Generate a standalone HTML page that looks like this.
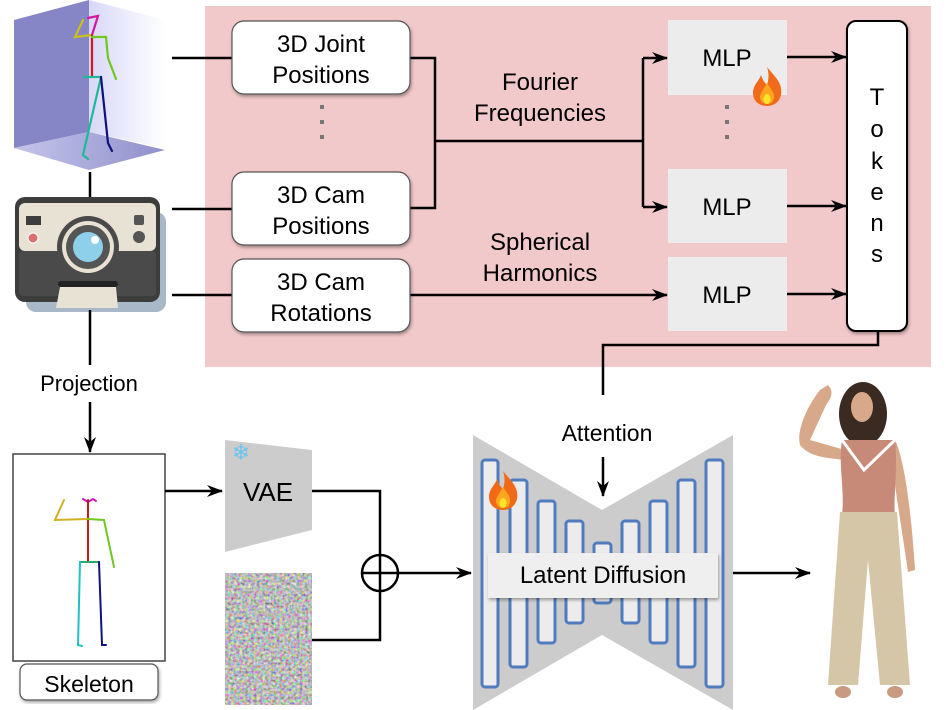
<!DOCTYPE html>
<html><head><meta charset="utf-8"><style>
html,body{margin:0;padding:0;background:#fff;}
svg{display:block;font-family:"Liberation Sans",sans-serif;}
</style></head><body>
<svg width="947" height="710" viewBox="0 0 947 710" xmlns="http://www.w3.org/2000/svg">
<defs>
<marker id="ar" markerWidth="16" markerHeight="12" refX="15" refY="6" orient="auto" markerUnits="userSpaceOnUse">
<path d="M0,0 L16,6 L0,12 L5,6 Z" fill="#000"/></marker>
<linearGradient id="wall" x1="0" x2="1"><stop offset="0" stop-color="#d8d8f8"/><stop offset="1" stop-color="#fff"/></linearGradient>
<linearGradient id="floor" x1="0" x2="1"><stop offset="0" stop-color="#c4c4ea"/><stop offset="1" stop-color="#9090cc"/></linearGradient>
<filter id="noise" x="0" y="0" width="100%" height="100%">
<feTurbulence type="fractalNoise" baseFrequency="0.35" numOctaves="2" seed="3"/>
<feColorMatrix type="matrix" values="1.3 0 0 0 -0.15  0 1.3 0 0 -0.15  0 0 1.3 0 -0.15  0 0 0 0 1"/>
</filter>
<filter id="sh"><feDropShadow dx="1" dy="2" stdDeviation="1.5" flood-opacity="0.35"/></filter>
<g id="flame"><path d="M0,-22 C8,-12 16,-6 14,6 C12,14 6,17 0,17 C-8,17 -14,12 -14,4 C-14,-4 -8,-8 -6,-14 C-4,-8 -2,-6 0,-4 C2,-10 2,-16 0,-22Z" fill="#f06a1a"/><path d="M0,-6 C4,0 8,4 7,9 C6,14 3,15 0,15 C-4,15 -7,12 -7,8 C-7,4 -3,0 0,-6Z" fill="#ffa51e"/><ellipse cx="0" cy="10" rx="3.5" ry="5" fill="#ffe52a"/></g>
</defs>

<rect x="205" y="6" width="726" height="361" fill="#f2c9ca"/>

<!-- 3D scene -->
<polygon points="14,20 89,0 89,132 14,148" fill="#8686c6"/>
<polygon points="89,0 165,20 165,148 89,132" fill="url(#wall)"/>
<polygon points="14,148 89,132 165,150 89,170" fill="url(#floor)"/>
<g fill="none" stroke-width="2.2" stroke-linecap="round">
<path d="M88,18 L98,16 L92,35" stroke="#d4189a"/>
<path d="M92,35 L75,37 L83,20" stroke="#c8c020"/>
<path d="M92,35 L92,77" stroke="#d01818"/>
<path d="M92,37 L106,37 L108,58 L116,79" stroke="#70c820"/>
<path d="M84,77 L101,77 L83,155 L88,159" stroke="#20b898"/>
<path d="M101,77 L108,143 L112,151" stroke="#10107a"/>
</g>
<line x1="90" y1="172" x2="90" y2="197" stroke="#000" stroke-width="2.5"/>

<!-- camera -->
<rect x="26" y="212" width="140" height="100" rx="10" fill="#a8b8c8"/>
<rect x="15" y="197" width="145" height="105" rx="10" fill="#3d3d3d"/>
<rect x="19" y="203" width="137" height="48" rx="6" fill="#e8e2d4"/>
<rect x="19" y="251" width="137" height="45" rx="4" fill="#4a4a4a"/>
<rect x="26" y="216" width="15" height="9" fill="#3d3d3d"/>
<circle cx="33" cy="238" r="5" fill="#d87070" stroke="#fff" stroke-width="1"/>
<rect x="134" y="215" width="10" height="10" rx="2" fill="#555"/>
<circle cx="139" cy="237" r="6" fill="#555"/>
<circle cx="88" cy="247" r="31" fill="#4a4a4a"/>
<circle cx="88" cy="247" r="26" fill="#e8e2d4"/>
<circle cx="88" cy="247" r="22" fill="#555"/>
<circle cx="88" cy="247" r="15" fill="#8ed0ea"/>
<circle cx="95" cy="240" r="4" fill="#fff"/>
<rect x="58" y="281" width="60" height="6" rx="3" fill="#222"/>
<path d="M60,287 L116,287 L118,308 L56,308Z" fill="#e8e2d4"/>
<line x1="90" y1="310" x2="90" y2="365" stroke="#000" stroke-width="2.5"/>

<text x="89" y="391" font-size="22" text-anchor="middle">Projection</text>
<line x1="90" y1="402" x2="90" y2="452" stroke="#000" stroke-width="2.5" marker-end="url(#ar)"/>

<!-- skeleton -->
<rect x="13" y="454" width="152" height="207" fill="#fff" stroke="#444" stroke-width="1.5"/>
<g fill="none" stroke-width="2" stroke-linecap="round">
<path d="M83,499 L88,502 L93,499 L96,501" stroke="#c818c0"/>
<path d="M88,500 L88,561" stroke="#d01818"/>
<path d="M88,519 L55,520 L64,500" stroke="#d0b020"/>
<path d="M88,519 L104,520 L114,567" stroke="#70c820"/>
<path d="M80,562 L99,562" stroke="#30a870"/>
<path d="M80,562 L78,645 L82,646" stroke="#20c0c8"/>
<path d="M99,562 L102,645 L106,645" stroke="#101080"/>
</g>
<rect x="20" y="664" width="138" height="36" rx="7" fill="#fff" stroke="#555" stroke-width="1.2" filter="url(#sh)"/>
<text x="89" y="692" font-size="23" text-anchor="middle">Skeleton</text>

<line x1="165" y1="491" x2="222" y2="491" stroke="#000" stroke-width="2.5" marker-end="url(#ar)"/>

<!-- VAE -->
<polygon points="225,440 312,450 312,530 225,552" fill="#cccccc"/>
<text x="241" y="460" font-size="22" text-anchor="middle" fill="#6cc4ee">❄</text>
<text x="268" y="501" font-size="26" text-anchor="middle">VAE</text>
<rect x="225" y="573" width="87" height="132" filter="url(#noise)"/>

<g stroke="#000" stroke-width="2.5" fill="none">
<path d="M312,491 L380,491 L380,555"/>
<path d="M312,640 L380,640 L380,591"/>
<circle cx="380" cy="573" r="18"/>
<line x1="362" y1="573" x2="398" y2="573"/>
<line x1="380" y1="555" x2="380" y2="591"/>
</g>
<line x1="398" y1="573" x2="471" y2="573" stroke="#000" stroke-width="2.5" marker-end="url(#ar)"/>

<!-- UNet -->
<polygon points="473,435 602,510 733,435 733,710 602,635 473,710" fill="#cccccc"/>
<g fill="#ececec" stroke="#4f7cbf" stroke-width="3">
<rect x="482" y="460" width="16" height="227" rx="3"/>
<rect x="510" y="480" width="17" height="187" rx="3"/>
<rect x="538" y="501" width="17" height="142" rx="3"/>
<rect x="566" y="521" width="17" height="102" rx="3"/>
<rect x="594" y="543" width="17" height="60" rx="3"/>
<rect x="622" y="521" width="17" height="102" rx="3"/>
<rect x="650" y="501" width="17" height="142" rx="3"/>
<rect x="678" y="480" width="17" height="187" rx="3"/>
<rect x="706" y="460" width="17" height="227" rx="3"/>
</g>
<use href="#flame" x="503" y="493"/>
<rect x="488" y="553" width="230" height="45" fill="#efefef" filter="url(#sh)"/>
<text x="603" y="583" font-size="24" text-anchor="middle">Latent Diffusion</text>
<text x="607" y="441" font-size="23" text-anchor="middle">Attention</text>
<line x1="603" y1="457" x2="603" y2="496" stroke="#000" stroke-width="2.5" marker-end="url(#ar)"/>
<line x1="733" y1="573" x2="810" y2="573" stroke="#000" stroke-width="2.5" marker-end="url(#ar)"/>

<!-- woman -->
<g>
<path d="M800,445 C796,430 808,405 820,390 L828,385 C835,392 830,400 826,405 L810,440 L845,450 L845,460 C830,458 810,458 800,445Z" fill="#d8a88a"/>
<ellipse cx="863" cy="414" rx="24" ry="32" fill="#3a2a22"/>
<ellipse cx="862" cy="407" rx="11" ry="15" fill="#d8a88a"/>
<path d="M895,440 C905,460 912,520 915,570 L908,572 C902,530 895,490 892,460Z" fill="#d8a88a"/>
<path d="M842,440 L895,440 C898,470 893,500 895,515 L842,515 C845,490 838,465 842,440Z" fill="#c88a78"/>
<path d="M842,440 L864,470 L895,440" fill="none" stroke="#fff" stroke-width="3"/>
<path d="M840,512 L897,512 L910,685 L880,685 L868,560 L858,685 L828,685 Z" fill="#d6c6a8"/>
<ellipse cx="843" cy="692" rx="8" ry="6" fill="#c89a80"/>
<ellipse cx="895" cy="692" rx="8" ry="6" fill="#c89a80"/>
</g>

<g stroke="#000" stroke-width="2.5" fill="none">
<line x1="172" y1="58" x2="232" y2="58"/>
<line x1="172" y1="209" x2="232" y2="209"/>
<line x1="172" y1="295" x2="232" y2="295"/>
<path d="M410,58 L435,58 L435,208 L410,208"/>
<path d="M435,141 L643,141"/>
<path d="M643,58 L643,207"/>
<path d="M878,331 L878,345 L603,345 L603,395"/>
</g>
<line x1="643" y1="58" x2="667" y2="58" stroke="#000" stroke-width="2.5" marker-end="url(#ar)"/>
<line x1="643" y1="207" x2="667" y2="207" stroke="#000" stroke-width="2.5" marker-end="url(#ar)"/>
<line x1="410" y1="295" x2="667" y2="295" stroke="#000" stroke-width="2.5" marker-end="url(#ar)"/>

<g fill="#fff" stroke="#555" stroke-width="1.2" filter="url(#sh)">
<rect x="232" y="21" width="178" height="73" rx="12"/>
<rect x="232" y="172" width="178" height="73" rx="12"/>
<rect x="232" y="259" width="178" height="73" rx="12"/>
</g>
<g font-size="24" text-anchor="middle">
<text x="321" y="52">3D Joint</text><text x="321" y="83">Positions</text>
<text x="321" y="203">3D Cam</text><text x="321" y="234">Positions</text>
<text x="321" y="290">3D Cam</text><text x="321" y="321">Rotations</text>
<text x="540" y="90">Fourier</text><text x="540" y="121">Frequencies</text>
<text x="540" y="250">Spherical</text><text x="540" y="281">Harmonics</text>
</g>
<g fill="#777"><rect x="320" y="105" width="4" height="4"/><rect x="320" y="120" width="4" height="4"/><rect x="320" y="135" width="4" height="4"/>
<rect x="725" y="105" width="4" height="4"/><rect x="725" y="120" width="4" height="4"/><rect x="725" y="135" width="4" height="4"/></g>

<g fill="#ececec">
<rect x="668" y="20" width="119" height="75"/>
<rect x="668" y="169" width="119" height="74"/>
<rect x="668" y="257" width="119" height="74"/>
</g>
<g font-size="24" text-anchor="middle">
<text x="727" y="66">MLP</text><text x="727" y="215">MLP</text><text x="727" y="303">MLP</text>
</g>
<use href="#flame" x="767" y="89"/>
<g stroke="#000" stroke-width="2.5">
<line x1="787" y1="57" x2="846" y2="57" marker-end="url(#ar)"/>
<line x1="787" y1="206" x2="846" y2="206" marker-end="url(#ar)"/>
<line x1="787" y1="294" x2="846" y2="294" marker-end="url(#ar)"/>
</g>
<rect x="847" y="21" width="60" height="310" rx="9" fill="#fff" stroke="#000" stroke-width="2" filter="url(#sh)"/>
<g font-size="24" text-anchor="middle">
<text x="877" y="105">T</text><text x="877" y="137">o</text><text x="877" y="169">k</text>
<text x="877" y="200">e</text><text x="877" y="231">n</text><text x="877" y="262">s</text>
</g>
</svg>
</body></html>
